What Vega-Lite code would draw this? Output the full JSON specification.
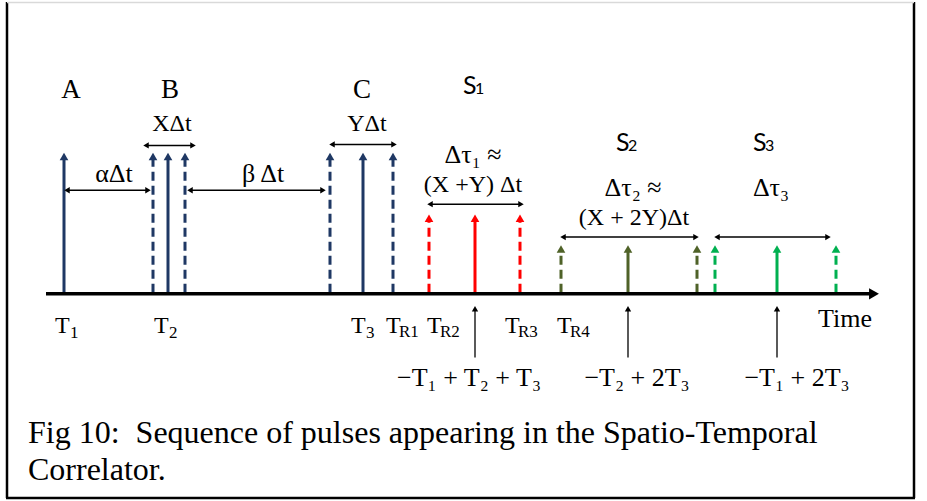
{
  "$schema": "https://vega.github.io/schema/vega-lite/v6.json",
  "width": 927,
  "height": 501,
  "padding": 0,
  "autosize": {"type": "fit", "contains": "padding"},
  "background": "white",
  "config": {"view": {"stroke": null}},
  "datasets": {
    "pulses": [
      {"t": 64, "base": 292, "top": 155, "group": "A", "line": "solid"},
      {"t": 153, "base": 292, "top": 155, "group": "B", "line": "dashed"},
      {"t": 168, "base": 292, "top": 155, "group": "B", "line": "solid"},
      {"t": 185, "base": 292, "top": 155, "group": "B", "line": "dashed"},
      {"t": 330, "base": 292, "top": 155, "group": "C", "line": "dashed"},
      {"t": 363, "base": 292, "top": 155, "group": "C", "line": "solid"},
      {"t": 393, "base": 292, "top": 155, "group": "C", "line": "dashed"},
      {"t": 429, "base": 292, "top": 217, "group": "S1", "line": "dashed"},
      {"t": 475, "base": 292, "top": 217, "group": "S1", "line": "solid"},
      {"t": 520, "base": 292, "top": 217, "group": "S1", "line": "dashed"},
      {"t": 561, "base": 292, "top": 248, "group": "S2", "line": "dashed"},
      {"t": 628, "base": 292, "top": 248, "group": "S2", "line": "solid"},
      {"t": 697, "base": 292, "top": 248, "group": "S2", "line": "dashed"},
      {"t": 715, "base": 292, "top": 248, "group": "S3", "line": "dashed"},
      {"t": 777, "base": 292, "top": 248, "group": "S3", "line": "solid"},
      {"t": 836, "base": 292, "top": 248, "group": "S3", "line": "dashed"}
    ],
    "spans": [
      {"a": 67, "b": 148, "lvl": 189},
      {"a": 146, "b": 193, "lvl": 144},
      {"a": 190, "b": 323, "lvl": 189},
      {"a": 332, "b": 394, "lvl": 143},
      {"a": 430, "b": 521, "lvl": 203},
      {"a": 563, "b": 696, "lvl": 236},
      {"a": 717, "b": 828, "lvl": 236}
    ],
    "pointers": [
      {"t": 475, "from": 357, "to": 308},
      {"t": 628, "from": 357, "to": 308},
      {"t": 777, "from": 357, "to": 308}
    ],
    "big": [
      {"t": 71, "lvl": 88, "label": "A"},
      {"t": 170, "lvl": 88, "label": "B"},
      {"t": 362, "lvl": 88, "label": "C"}
    ],
    "serif": [
      {"t": 172, "lvl": 122, "label": "XΔt"},
      {"t": 367, "lvl": 122, "label": "YΔt"},
      {"t": 473, "lvl": 184, "label": "(X +Y) Δt"},
      {"t": 634, "lvl": 217, "label": "(X + 2Y)Δt"}
    ],
    "greek": [
      {"t": 114, "lvl": 173, "label": "αΔt"},
      {"t": 263, "lvl": 173, "label": "β Δt"},
      {"t": 473, "lvl": 154, "label": "Δτ₁ ≈"},
      {"t": 633, "lvl": 187, "label": "Δτ₂ ≈"},
      {"t": 771, "lvl": 187, "label": "Δτ₃"}
    ],
    "expr": [
      {"t": 469, "lvl": 378, "label": "−T₁ + T₂ + T₃"},
      {"t": 637, "lvl": 378, "label": "−T₂ + 2T₃"},
      {"t": 797, "lvl": 378, "label": "−T₁ + 2T₃"},
      {"t": 845, "lvl": 318, "label": "Time"}
    ],
    "smain": [
      {"t": 463, "lvl": 92, "label": "S"},
      {"t": 616, "lvl": 150, "label": "S"},
      {"t": 753, "lvl": 150, "label": "S"}
    ],
    "ssub": [
      {"t": 475, "lvl": 92, "label": "1"},
      {"t": 628, "lvl": 150, "label": "2"},
      {"t": 765, "lvl": 150, "label": "3"}
    ],
    "tmain": [
      {"t": 55, "lvl": 332, "label": "T"},
      {"t": 154, "lvl": 332, "label": "T"},
      {"t": 351, "lvl": 332, "label": "T"},
      {"t": 386, "lvl": 332, "label": "T"},
      {"t": 427, "lvl": 332, "label": "T"},
      {"t": 505, "lvl": 332, "label": "T"},
      {"t": 557, "lvl": 332, "label": "T"}
    ],
    "tsub": [
      {"t": 70, "lvl": 337, "label": "1"},
      {"t": 169, "lvl": 337, "label": "2"},
      {"t": 366, "lvl": 337, "label": "3"},
      {"t": 399, "lvl": 336, "label": "R1"},
      {"t": 440, "lvl": 336, "label": "R2"},
      {"t": 518, "lvl": 336, "label": "R3"},
      {"t": 570, "lvl": 336, "label": "R4"}
    ],
    "caption": [
      {"t": 28, "lvl": 443, "label": "Fig 10:\u00a0 Sequence of pulses appearing in the Spatio-Temporal"},
      {"t": 28, "lvl": 480, "label": "Correlator."}
    ],
    "frame": [
      {"a": 7, "b": 7, "c": 0, "d": 498},
      {"a": 914, "b": 914, "c": 0, "d": 498},
      {"a": 6, "b": 915, "c": 498, "d": 498}
    ],
    "topline": [{"a": 7, "b": 914, "c": 0.5}],
    "axisline": [{"a": 46, "b": 872, "lvl": 293, "tip": 874}]
  },
  "layer": [
    {
      "data": {"name": "frame"},
      "mark": {"type": "rule", "stroke": "#000000", "strokeWidth": 2.5},
      "encoding": {
        "x": {"field": "a", "type": "quantitative", "scale": {"domain": [0, 927], "nice": false, "zero": false}, "axis": null},
        "x2": {"field": "b"},
        "y": {"field": "c", "type": "quantitative", "scale": {"domain": [0, 501], "nice": false, "zero": false, "reverse": true}, "axis": null},
        "y2": {"field": "d"}
      }
    },
    {
      "data": {"name": "topline"},
      "mark": {"type": "rule", "stroke": "#d9d9d9", "strokeWidth": 1.5},
      "encoding": {
        "x": {"field": "a", "type": "quantitative"},
        "x2": {"field": "b"},
        "y": {"field": "c", "type": "quantitative"}
      }
    },
    {
      "data": {"name": "pulses"},
      "mark": {"type": "rule", "strokeWidth": 3},
      "encoding": {
        "x": {"field": "t", "type": "quantitative"},
        "y": {"field": "base", "type": "quantitative"},
        "y2": {"field": "top"},
        "color": {"field": "group", "type": "nominal", "legend": null, "scale": {"domain": ["A", "B", "C", "S1", "S2", "S3"], "range": ["#1f3864", "#1f3864", "#1f3864", "#ff0000", "#4f6228", "#00b050"]}},
        "strokeDash": {"field": "line", "type": "nominal", "legend": null, "scale": {"domain": ["solid", "dashed"], "range": [[1, 0], [9, 5]]}}
      }
    },
    {
      "data": {"name": "pulses"},
      "mark": {"type": "point", "shape": "triangle-up", "filled": true, "opacity": 1, "size": 75},
      "encoding": {
        "x": {"field": "t", "type": "quantitative"},
        "y": {"field": "top", "type": "quantitative"},
        "color": {"field": "group", "type": "nominal", "legend": null}
      }
    },
    {
      "data": {"name": "axisline"},
      "mark": {"type": "rule", "strokeWidth": 3.5, "color": "#000000"},
      "encoding": {
        "x": {"field": "a", "type": "quantitative"},
        "x2": {"field": "b"},
        "y": {"field": "lvl", "type": "quantitative"}
      }
    },
    {
      "data": {"name": "axisline"},
      "mark": {"type": "point", "shape": "triangle-right", "filled": true, "opacity": 1, "size": 130, "color": "#000000"},
      "encoding": {
        "x": {"field": "tip", "type": "quantitative"},
        "y": {"field": "lvl", "type": "quantitative"}
      }
    },
    {
      "data": {"name": "spans"},
      "mark": {"type": "rule", "strokeWidth": 1.5, "color": "#000000"},
      "encoding": {
        "x": {"field": "a", "type": "quantitative"},
        "x2": {"field": "b"},
        "y": {"field": "lvl", "type": "quantitative"}
      }
    },
    {
      "data": {"name": "spans"},
      "mark": {"type": "point", "shape": "triangle-left", "filled": true, "opacity": 1, "size": 40, "color": "#000000", "dx": 3},
      "encoding": {
        "x": {"field": "a", "type": "quantitative"},
        "y": {"field": "lvl", "type": "quantitative"}
      }
    },
    {
      "data": {"name": "spans"},
      "mark": {"type": "point", "shape": "triangle-right", "filled": true, "opacity": 1, "size": 40, "color": "#000000", "dx": -3},
      "encoding": {
        "x": {"field": "b", "type": "quantitative"},
        "y": {"field": "lvl", "type": "quantitative"}
      }
    },
    {
      "data": {"name": "pointers"},
      "mark": {"type": "rule", "strokeWidth": 1.3, "color": "#000000"},
      "encoding": {
        "x": {"field": "t", "type": "quantitative"},
        "y": {"field": "from", "type": "quantitative"},
        "y2": {"field": "to"}
      }
    },
    {
      "data": {"name": "pointers"},
      "mark": {"type": "point", "shape": "triangle-up", "filled": true, "opacity": 1, "size": 40, "color": "#000000"},
      "encoding": {
        "x": {"field": "t", "type": "quantitative"},
        "y": {"field": "to", "type": "quantitative"}
      }
    },
    {
      "data": {"name": "big"},
      "mark": {"type": "text", "font": "Liberation Serif", "fontSize": 27, "color": "#000000", "baseline": "middle", "align": "center"},
      "encoding": {
        "x": {"field": "t", "type": "quantitative"},
        "y": {"field": "lvl", "type": "quantitative"},
        "text": {"field": "label", "type": "nominal"}
      }
    },
    {
      "data": {"name": "serif"},
      "mark": {"type": "text", "font": "Liberation Serif", "fontSize": 24, "color": "#000000", "baseline": "middle", "align": "center"},
      "encoding": {
        "x": {"field": "t", "type": "quantitative"},
        "y": {"field": "lvl", "type": "quantitative"},
        "text": {"field": "label", "type": "nominal"}
      }
    },
    {
      "data": {"name": "greek"},
      "mark": {"type": "text", "font": "Liberation Serif", "fontSize": 26, "color": "#000000", "baseline": "middle", "align": "center"},
      "encoding": {
        "x": {"field": "t", "type": "quantitative"},
        "y": {"field": "lvl", "type": "quantitative"},
        "text": {"field": "label", "type": "nominal"}
      }
    },
    {
      "data": {"name": "expr"},
      "mark": {"type": "text", "font": "Liberation Serif", "fontSize": 26, "color": "#000000", "baseline": "middle", "align": "center"},
      "encoding": {
        "x": {"field": "t", "type": "quantitative"},
        "y": {"field": "lvl", "type": "quantitative"},
        "text": {"field": "label", "type": "nominal"}
      }
    },
    {
      "data": {"name": "smain"},
      "mark": {"type": "text", "font": "Lato", "fontSize": 25, "color": "#000000", "baseline": "alphabetic", "align": "left"},
      "encoding": {
        "x": {"field": "t", "type": "quantitative"},
        "y": {"field": "lvl", "type": "quantitative"},
        "text": {"field": "label", "type": "nominal"}
      }
    },
    {
      "data": {"name": "ssub"},
      "mark": {"type": "text", "font": "Lato", "fontSize": 16, "color": "#000000", "baseline": "alphabetic", "align": "left"},
      "encoding": {
        "x": {"field": "t", "type": "quantitative"},
        "y": {"field": "lvl", "type": "quantitative"},
        "text": {"field": "label", "type": "nominal"}
      }
    },
    {
      "data": {"name": "tmain"},
      "mark": {"type": "text", "font": "Liberation Serif", "fontSize": 24, "color": "#000000", "baseline": "alphabetic", "align": "left"},
      "encoding": {
        "x": {"field": "t", "type": "quantitative"},
        "y": {"field": "lvl", "type": "quantitative"},
        "text": {"field": "label", "type": "nominal"}
      }
    },
    {
      "data": {"name": "tsub"},
      "mark": {"type": "text", "font": "Liberation Serif", "fontSize": 17, "color": "#000000", "baseline": "alphabetic", "align": "left"},
      "encoding": {
        "x": {"field": "t", "type": "quantitative"},
        "y": {"field": "lvl", "type": "quantitative"},
        "text": {"field": "label", "type": "nominal"}
      }
    },
    {
      "data": {"name": "caption"},
      "mark": {"type": "text", "font": "Liberation Serif", "fontSize": 32, "color": "#000000", "baseline": "alphabetic", "align": "left"},
      "encoding": {
        "x": {"field": "t", "type": "quantitative"},
        "y": {"field": "lvl", "type": "quantitative"},
        "text": {"field": "label", "type": "nominal"}
      }
    }
  ]
}
